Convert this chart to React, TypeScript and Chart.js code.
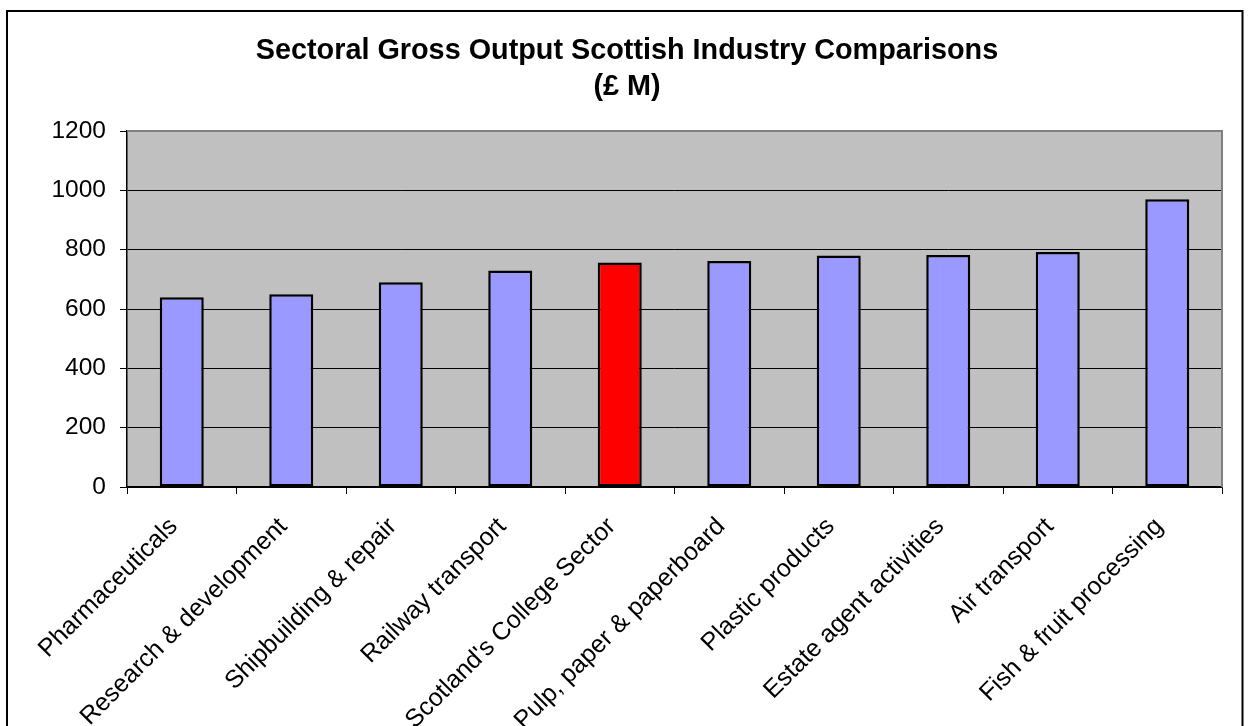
import React, { useEffect, useRef } from "react";
import { Chart, registerables } from "chart.js";

Chart.register(...registerables);

const categories: string[] = [
  "Pharmaceuticals",
  "Research & development",
  "Shipbuilding & repair",
  "Railway transport",
  "Scotland's College Sector",
  "Pulp, paper & paperboard",
  "Plastic products",
  "Estate agent activities",
  "Air transport",
  "Fish & fruit processing",
];
const grossOutput: number[] = [640, 650, 690, 730, 757, 762, 780, 782, 792, 970];
const highlightIndex = 4;
const titleLines: string[] = ["Sectoral Gross Output Scottish Industry Comparisons", "(£ M)"];
const yMin = 0;
const yMax = 1200;
const yStep = 200;

const FONT = 'Arial, "Liberation Sans", sans-serif';

const framePlugin = {
  id: "frame",
  beforeDraw(chart: any) {
    const { ctx, chartArea } = chart;
    ctx.save();
    ctx.fillStyle = "#ffffff";
    ctx.fillRect(0, 0, chart.width, chart.height);
    ctx.fillStyle = "#C0C0C0";
    ctx.fillRect(chartArea.left, chartArea.top, chartArea.right - chartArea.left, chartArea.bottom - chartArea.top);
    ctx.restore();
  },
  afterDraw(chart: any) {
    const { ctx, chartArea } = chart;
    ctx.save();
    ctx.strokeStyle = "#808080";
    ctx.lineWidth = 2;
    ctx.beginPath();
    ctx.moveTo(chartArea.left, chartArea.top);
    ctx.lineTo(chartArea.right, chartArea.top);
    ctx.lineTo(chartArea.right, chartArea.bottom);
    ctx.stroke();
    ctx.strokeStyle = "#000000";
    ctx.lineWidth = 2;
    ctx.strokeRect(7, 11, 1235.5, 760);
    ctx.restore();
  },
};

export default function App() {
  const canvasRef = useRef<HTMLCanvasElement | null>(null);

  useEffect(() => {
    document.body.style.margin = "0";
    const canvas = canvasRef.current;
    if (!canvas) return;
    const chart = new Chart(canvas, {
      type: "bar",
      data: {
        labels: categories,
        datasets: [
          {
            label: "Gross Output (£ M)",
            data: grossOutput,
            backgroundColor: grossOutput.map((_, i) => (i === highlightIndex ? "#FF0000" : "#9999FF")),
            borderColor: "#000000",
            borderWidth: 2.5,
            borderSkipped: false,
            barPercentage: 0.402,
            categoryPercentage: 1,
          },
        ],
      },
      options: {
        animation: false,
        responsive: false,
        maintainAspectRatio: false,
        layout: { padding: { top: 0, left: 32, right: 26, bottom: 0 } },
        plugins: {
          legend: { display: false },
          tooltip: { enabled: false },
          title: {
            display: true,
            text: titleLines,
            color: "#000000",
            font: { family: FONT, size: 28.8, weight: "bold", lineHeight: 1.25 },
            padding: { top: 33, bottom: 26 },
          },
        },
        scales: {
          x: {
            offset: true,
            grid: {
              offset: true,
              drawOnChartArea: false,
              drawTicks: true,
              tickLength: 7,
              color: "#000000",
              lineWidth: 1,
            },
            border: { display: true, color: "#000000", width: 1.5 },
            ticks: {
              minRotation: 45,
              maxRotation: 45,
              autoSkip: false,
              padding: 18,
              labelOffset: -8,
              color: "#000000",
              font: { family: FONT, size: 25 },
            },
            afterFit(scale: any) {
              scale.height = 239;
            },
          },
          y: {
            min: yMin,
            max: yMax,
            ticks: {
              stepSize: yStep,
              padding: 14,
              color: "#000000",
              font: { family: FONT, size: 24.5 },
              callback: (value: any) => String(value),
            },
            grid: {
              color: "#000000",
              lineWidth: 1,
              tickLength: 7,
              drawTicks: true,
            },
            border: { display: true, color: "#000000", width: 1.5 },
            afterFit(scale: any) {
              scale.width = 95;
            },
          },
        },
      },
      plugins: [framePlugin],
    });
    return () => chart.destroy();
  }, []);

  return (
    <div style={{ width: 1248, height: 726 }}>
      <canvas ref={canvasRef} width={1248} height={726} style={{ display: "block" }} />
    </div>
  );
}
